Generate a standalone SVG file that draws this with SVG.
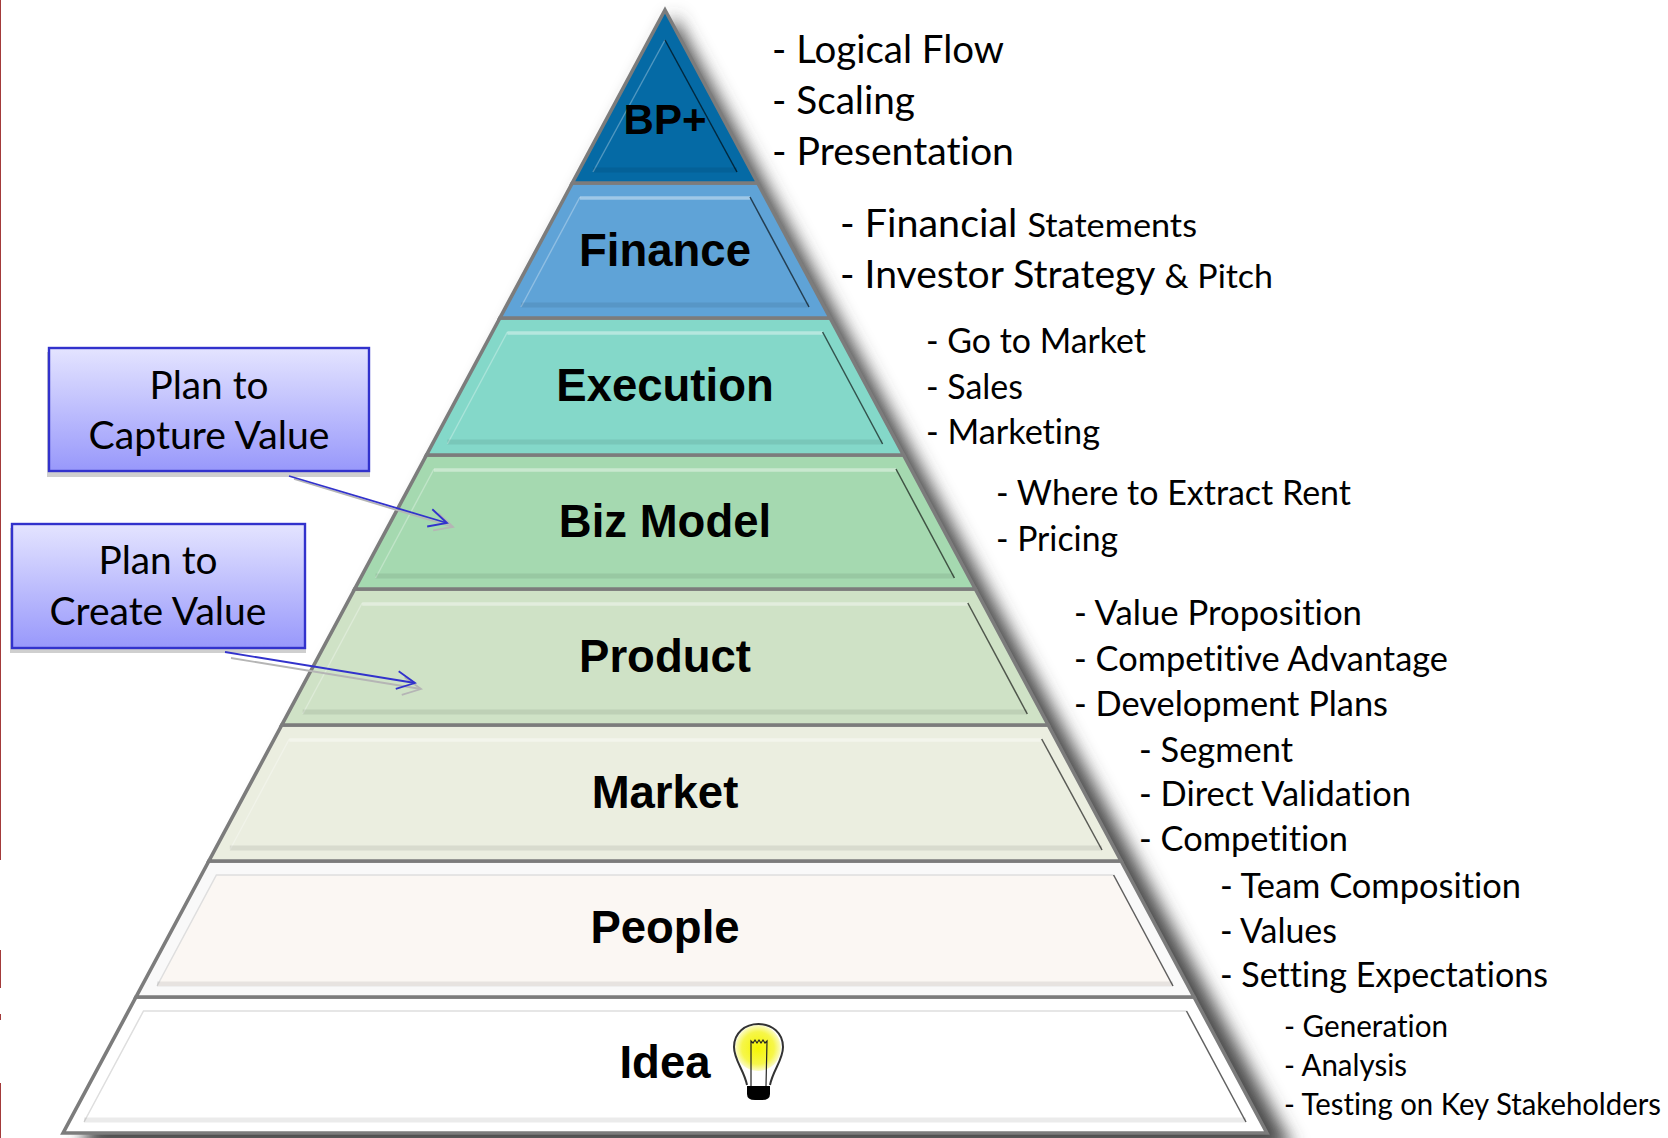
<svg xmlns="http://www.w3.org/2000/svg" width="1668" height="1138" viewBox="0 0 1668 1138">
<style>
.lv{stroke:#7c7c7c;stroke-width:3.6;stroke-linejoin:miter}
.lab{font:bold 45.5px "Liberation Sans",Arial,sans-serif;text-anchor:middle;fill:#000}
.t{font-family:Lato,"Open Sans",sans-serif;fill:#000;font-variant-ligatures:none}
.a{font-size:38px}.b{font-size:34px}.c{font-size:30px}.s{font-size:33px}
.hi{fill:none;stroke:#fff;stroke-opacity:.3;stroke-width:1.4}
.tp{fill:none;stroke:#fff;stroke-opacity:.4;stroke-width:3.4}
.hi2{fill:none;stroke:#dedede;stroke-width:1.5}
.dk{fill:none;stroke:#000;stroke-opacity:.62;stroke-width:1.5}
.bt{fill:none;stroke:#000;stroke-opacity:.08;stroke-width:5}
.box{fill:url(#bx);stroke:#3232cc;stroke-width:2.4}
.bs{fill:#cfcfcf}
.cap{font-family:Lato,"Open Sans",sans-serif;font-size:38px;text-anchor:middle;fill:#000;font-variant-ligatures:none}
.ar{fill:none;stroke:#3232cc;stroke-width:1.8}
.as{fill:none;stroke:#b5b5b5;stroke-width:1.8}
.red{fill:#a33a3a}
</style>
<defs>
<linearGradient id="bx" x1="0" y1="0" x2="0" y2="1"><stop offset="0" stop-color="#e4e4ff"/><stop offset="1" stop-color="#9898fb"/></linearGradient>
<radialGradient id="gl"><stop offset="0" stop-color="#f5f500"/><stop offset=".7" stop-color="#f6f64a"/><stop offset="1" stop-color="#fbfbc8"/></radialGradient>
<filter id="sh" x="-10%" y="-10%" width="120%" height="120%"><feGaussianBlur stdDeviation="9"/></filter>
<marker id="oa" markerUnits="userSpaceOnUse" markerWidth="24" markerHeight="24" refX="19" refY="10" orient="auto" viewBox="0 0 24 20"><path d="M1,1 L19,10 L1,19" fill="none" stroke="#3232cc" stroke-width="1.8"/></marker>
<marker id="os" markerUnits="userSpaceOnUse" markerWidth="24" markerHeight="24" refX="19" refY="10" orient="auto" viewBox="0 0 24 20"><path d="M1,1 L19,10 L1,19" fill="none" stroke="#b5b5b5" stroke-width="1.8"/></marker>
</defs>
<rect width="1668" height="1138" fill="#fff"/>
<g id="edge"><rect class="red" x="0" y="0" width="1" height="860"/><rect class="red" x="0" y="950" width="1" height="38"/><rect class="red" x="0" y="1014" width="1" height="6"/><rect class="red" x="0" y="1083" width="1" height="55"/></g>
<polygon id="shadow" points="674,16 78,1150 1294,1150" fill="#4a4a4a" filter="url(#sh)"/>

<g id="node-idea"><polygon class="lv" fill="#fff" points="136,997 1194,997 1266.9,1133 63.1,1133"/>
<path class="hi2" d="M84,1122 L143.5,1011 H1186.5"/><path class="dk" d="M1186.5,1011 L1246,1122"/><path class="bt" d="M84,1120 H1246"/>
<text class="lab" x="665" y="1078">Idea</text>
<g id="bulb"><circle cx="758" cy="1048" r="23" fill="url(#gl)"/>
<path d="M747,1085 C744,1070 734,1060 734,1047 C734,1033 745,1024 758.500,1024 C772,1024 783,1033 783,1047 C783,1060 773,1070 770,1085" fill="none" stroke="#333" stroke-width="2"/>
<path d="M751,1086 L751,1041 L753,1043 L755,1040 L757,1043 L759,1040 L761,1043 L763,1040 L765,1043 L767,1041 L766,1086" fill="none" stroke="#222" stroke-width="1.2"/>
<path d="M747,1086 H770 V1094 Q770,1100 762,1100 H755 Q747,1100 747,1094 Z" fill="#000"/></g></g>

<g id="node-people"><polygon class="lv" fill="#f9f9f9" points="208.900,861 1121.100,861 1194,997 136,997"/>
<polygon fill="#fbf7f3" points="216.400,875 1113.600,875 1173,986 157,986"/>
<path class="hi2" d="M157,986 L216.400,875 H1113.600"/><path class="dk" d="M1113.600,875 L1173,986"/><path class="bt" d="M157,984 H1173"/>
<text class="lab" x="665" y="943">People</text></g>

<g id="node-market"><polygon class="lv" fill="#ebeee0" points="281.800,725 1048.200,725 1121.100,861 208.900,861"/>
<path class="hi" d="M229.800,850 L289.300,739"/><path class="tp" d="M289.300,740 H1040.700"/><path class="dk" d="M1041.700,739 L1102,850"/><path class="bt" d="M229.800,848 H1102"/>
<text class="lab" x="665" y="808">Market</text></g>

<g id="node-product"><polygon class="lv" fill="#cfe2c6" points="354.700,589 975.300,589 1048.200,725 281.800,725"/>
<path class="hi" d="M302.700,714 L362.200,603"/><path class="tp" d="M362.200,604 H967.800"/><path class="dk" d="M967.800,603 L1027.300,714"/><path class="bt" d="M302.700,712 H1027.300"/>
<text class="lab" x="665" y="672">Product</text></g>

<g id="node-bizmodel"><polygon class="lv" fill="#a5d9b0" points="426.500,455 903.500,455 975.300,589 354.700,589"/>
<path class="hi" d="M375.600,578 L434,469"/><path class="tp" d="M434,470 H896"/><path class="dk" d="M896,469 L954.400,578"/><path class="bt" d="M375.600,576 H954.400"/>
<text class="lab" x="665" y="537">Biz Model</text></g>

<g id="node-execution"><polygon class="lv" fill="#84d8c9" points="499.900,318 830.100,318 903.500,455 426.500,455"/>
<path class="hi" d="M447.400,444 L507.400,332"/><path class="tp" d="M507.400,333 H822.600"/><path class="dk" d="M822.600,332 L882.600,444"/><path class="bt" d="M447.400,442 H882.600"/>
<text class="lab" x="665" y="401">Execution</text></g>

<g id="node-finance"><polygon class="lv" fill="#5fa3d7" points="572.300,183 757.700,183 830.100,318 499.900,318"/>
<path class="hi" d="M521,307 L580,197"/><path class="tp" d="M580,198 H750"/><path class="dk" d="M750,197 L809,307"/><path class="bt" d="M521,305 H809"/>
<text class="lab" x="665" y="266">Finance</text></g>

<g id="node-bp"><polygon class="lv" fill="#056aa5" points="665,10 757.700,183 572.300,183"/>
<path class="hi" d="M593,172 L665,40"/><path class="dk" d="M665,40 L737,172"/><path class="bt" d="M593,170 H737"/>
<text class="lab" x="665" y="134" style="font-size:42px">BP+</text></g>

<g id="node-capture"><rect class="bs" x="47" y="352" width="323" height="125"/><rect class="box" x="49" y="348" width="320" height="123"/>
<text class="cap" x="209" y="399" textLength="119" lengthAdjust="spacingAndGlyphs">Plan to</text><text class="cap" x="209" y="449" textLength="241" lengthAdjust="spacingAndGlyphs">Capture Value</text></g>
<g id="node-create"><rect class="bs" x="10" y="528" width="296" height="125"/><rect class="box" x="12" y="524" width="293" height="124"/>
<text class="cap" x="158" y="574" textLength="119" lengthAdjust="spacingAndGlyphs">Plan to</text><text class="cap" x="158" y="625" textLength="217" lengthAdjust="spacingAndGlyphs">Create Value</text></g>

<g id="connectors">
<line class="as" x1="294" y1="479" x2="453" y2="527" marker-end="url(#os)"/>
<line class="as" x1="231" y1="658" x2="421" y2="689" marker-end="url(#os)"/>
<line class="ar" x1="289" y1="476" x2="447" y2="523" marker-end="url(#oa)"/>
<line class="ar" x1="225" y1="652" x2="415" y2="683" marker-end="url(#oa)"/>
</g>

<g id="notes" transform="translate(-1,1)">
<text class="t a" x="773" y="62" textLength="232" lengthAdjust="spacingAndGlyphs">- Logical Flow</text>
<text class="t a" x="773" y="113" textLength="143" lengthAdjust="spacingAndGlyphs">- Scaling</text>
<text class="t a" x="773" y="164" textLength="242" lengthAdjust="spacingAndGlyphs">- Presentation</text>
<text class="t a" x="841" y="236" textLength="357" lengthAdjust="spacingAndGlyphs">- Financial <tspan class="s">Statements</tspan></text>
<text class="t a" x="841" y="287" textLength="433" lengthAdjust="spacingAndGlyphs">- Investor Strategy <tspan class="s">&amp; Pitch</tspan></text>
<text class="t b" x="927" y="352" textLength="220" lengthAdjust="spacingAndGlyphs">- Go to Market</text>
<text class="t b" x="927" y="398" textLength="97" lengthAdjust="spacingAndGlyphs">- Sales</text>
<text class="t b" x="927" y="443" textLength="174" lengthAdjust="spacingAndGlyphs">- Marketing</text>
<text class="t b" x="997" y="504" textLength="355" lengthAdjust="spacingAndGlyphs">- Where to Extract Rent</text>
<text class="t b" x="997" y="550" textLength="122" lengthAdjust="spacingAndGlyphs">- Pricing</text>
<text class="t b" x="1075" y="624" textLength="288" lengthAdjust="spacingAndGlyphs">- Value Proposition</text>
<text class="t b" x="1075" y="670" textLength="374" lengthAdjust="spacingAndGlyphs">- Competitive Advantage</text>
<text class="t b" x="1075" y="715" textLength="314" lengthAdjust="spacingAndGlyphs">- Development Plans</text>
<text class="t b" x="1140" y="761" textLength="154" lengthAdjust="spacingAndGlyphs">- Segment</text>
<text class="t b" x="1140" y="805" textLength="272" lengthAdjust="spacingAndGlyphs">- Direct Validation</text>
<text class="t b" x="1140" y="850" textLength="209" lengthAdjust="spacingAndGlyphs">- Competition</text>
<text class="t b" x="1221" y="897" textLength="301" lengthAdjust="spacingAndGlyphs">- Team Composition</text>
<text class="t b" x="1221" y="942" textLength="117" lengthAdjust="spacingAndGlyphs">- Values</text>
<text class="t b" x="1221" y="986" textLength="328" lengthAdjust="spacingAndGlyphs">- Setting Expectations</text>
<text class="t c" x="1285" y="1036" textLength="164" lengthAdjust="spacingAndGlyphs">- Generation</text>
<text class="t c" x="1285" y="1075" textLength="123" lengthAdjust="spacingAndGlyphs">- Analysis</text>
<text class="t c" x="1285" y="1114" textLength="377" lengthAdjust="spacingAndGlyphs">- Testing on Key Stakeholders</text>
</g>
</svg>
